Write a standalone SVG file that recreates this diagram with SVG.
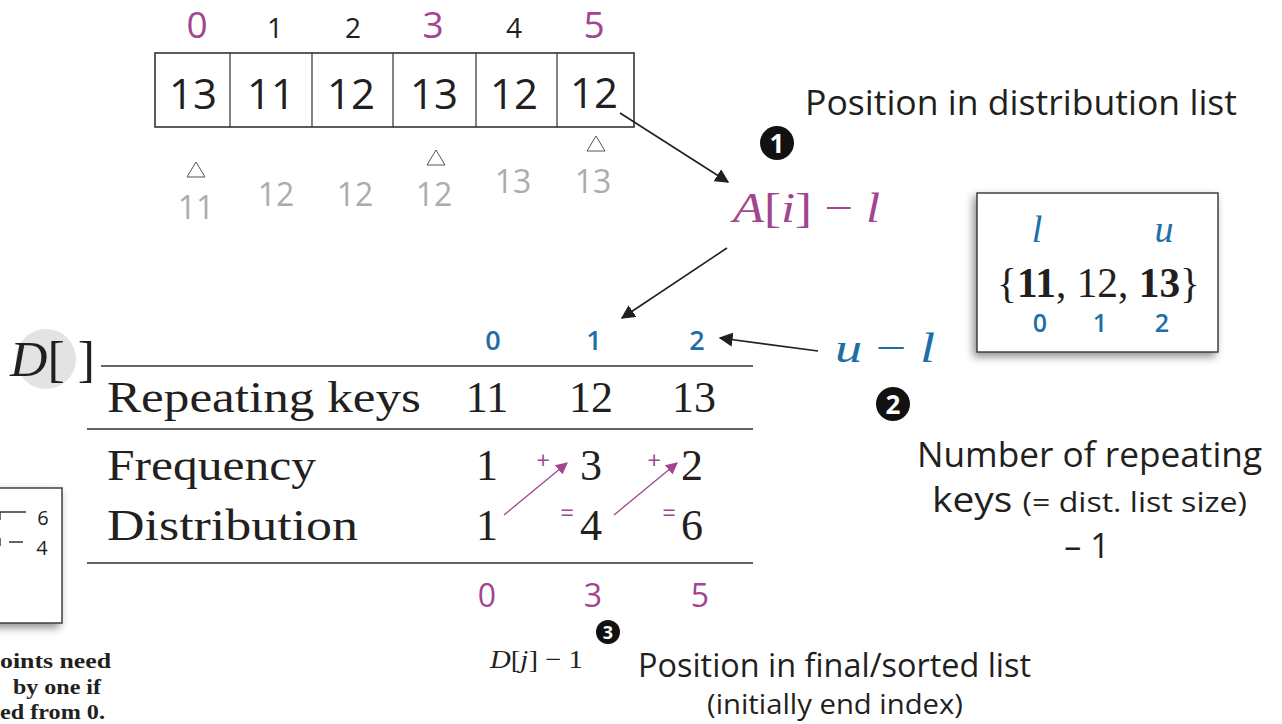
<svg xmlns="http://www.w3.org/2000/svg" width="1282" height="724" viewBox="0 0 1282 724">
<defs>
<marker id="ah" viewBox="0 0 10 10" refX="9" refY="5" markerWidth="14" markerHeight="14" markerUnits="userSpaceOnUse" orient="auto"><path d="M0,0 L10,5 L0,10 z" fill="#231f20"/></marker>
<marker id="ahm" viewBox="0 0 10 10" refX="9" refY="5" markerWidth="12" markerHeight="12" markerUnits="userSpaceOnUse" orient="auto"><path d="M0,0 L10,5 L0,10 z" fill="#a3458f"/></marker>
<filter id="sh" x="-20%" y="-20%" width="140%" height="140%"><feDropShadow dx="-3" dy="4" stdDeviation="4" flood-color="#000" flood-opacity="0.45"/></filter>
</defs>
<style>
.sans{font-family:"Open Sans","Noto Sans",sans-serif;fill:#231f20}
.ser{font-family:"Liberation Serif","DejaVu Serif",serif;fill:#231f20}
.mag{fill:#a3458f}
.blu{fill:#1d6fa5}
.gry{fill:#acacaf}
.cell{font-size:42px;text-anchor:middle}
.idx{font-size:28px;text-anchor:middle}
.gnum{font-size:32px;text-anchor:middle}
.tri{fill:none;stroke:#555;stroke-width:1}
.rule{stroke:#333;stroke-width:1.6}
.conn{stroke:#231f20;stroke-width:1.6;fill:none}
.mconn{stroke:#a3458f;stroke-width:1.3;fill:none}
.tv{font-size:44px;text-anchor:middle}
.bullet{fill:#111}
.bnum{font-family:"Open Sans","Noto Sans",sans-serif;font-weight:bold;fill:#fff;text-anchor:middle}
</style>
<rect width="1282" height="724" fill="#fff"/>

<g id="array">
<rect x="155" y="53" width="479" height="74" fill="none" stroke="#333" stroke-width="1.6"/>
<path d="M230,53V127M312,53V127M393,53V127M476,53V127M557,53V127" stroke="#333" stroke-width="1.2"/>
<text class="sans cell" x="193" y="109">13</text>
<text class="sans cell" x="271" y="109">11</text>
<text class="sans cell" x="351" y="109">12</text>
<text class="sans cell" x="434" y="109">13</text>
<text class="sans cell" x="514" y="109">12</text>
<text class="sans cell" x="594" y="108">12</text>
<text class="sans mag" x="197" y="38" font-size="37" text-anchor="middle">0</text>
<text class="sans idx" x="275" y="38">1</text>
<text class="sans idx" x="353" y="38">2</text>
<text class="sans mag" x="433" y="38" font-size="37" text-anchor="middle">3</text>
<text class="sans idx" x="514" y="38">4</text>
<text class="sans mag" x="594" y="38" font-size="37" text-anchor="middle">5</text>
</g>

<g id="sorted-hints">
<path class="tri" d="M187,177 L205,177 L196,162 Z"/>
<path class="tri" d="M427,165 L445,165 L436,150 Z"/>
<path class="tri" d="M587,151 L605,151 L596,136 Z"/>
<text class="sans gry gnum" x="196" y="219">11</text>
<text class="sans gry gnum" x="276" y="206">12</text>
<text class="sans gry gnum" x="355" y="206">12</text>
<text class="sans gry gnum" x="434" y="206">12</text>
<text class="sans gry gnum" x="513" y="193">13</text>
<text class="sans gry gnum" x="593" y="193">13</text>
</g>

<g id="pos-dist">
<text class="sans" x="805" y="115" font-size="35" textLength="432" lengthAdjust="spacingAndGlyphs">Position in distribution list</text>
<circle class="bullet" cx="777" cy="143" r="17"/>
<text class="bnum" x="777" y="153" font-size="26">1</text>
<text class="ser mag" x="733" y="222" font-size="42" font-style="italic" textLength="147" lengthAdjust="spacingAndGlyphs">A<tspan font-style="normal">[</tspan>i<tspan font-style="normal">] − </tspan>l</text>
</g>

<g id="lu-box">
<rect x="977" y="193" width="241" height="159" fill="#fff" stroke="#333" stroke-width="1.4" filter="url(#sh)"/>
<text class="ser blu" x="1037" y="242" font-size="38" font-style="italic" text-anchor="middle">l</text>
<text class="ser blu" x="1164" y="242" font-size="38" font-style="italic" text-anchor="middle">u</text>
<text class="ser" x="997" y="297" font-size="42" textLength="203" lengthAdjust="spacingAndGlyphs">{<tspan font-weight="bold">11</tspan>, 12, <tspan font-weight="bold">13</tspan>}</text>
<text class="sans blu" x="1040" y="332" font-size="25" font-weight="600" text-anchor="middle">0</text>
<text class="sans blu" x="1100" y="332" font-size="25" font-weight="600" text-anchor="middle">1</text>
<text class="sans blu" x="1162" y="332" font-size="25" font-weight="600" text-anchor="middle">2</text>
</g>

<g id="u-minus-l">
<text class="ser blu" x="835" y="362" font-size="42" font-style="italic" textLength="100" lengthAdjust="spacingAndGlyphs">u<tspan font-style="normal"> − </tspan>l</text>
<circle class="bullet" cx="893" cy="404" r="17"/>
<text class="bnum" x="893" y="414" font-size="26">2</text>
<text class="sans" x="917" y="467" font-size="34" textLength="345" lengthAdjust="spacingAndGlyphs">Number of repeating</text>
<text class="sans" x="932" y="512" textLength="315" lengthAdjust="spacingAndGlyphs"><tspan font-size="34">keys </tspan><tspan font-size="28">(= dist. list size)</tspan></text>
<text class="sans" x="1087" y="558" font-size="34" text-anchor="middle">– 1</text>
</g>

<g id="table">
<circle cx="46" cy="359" r="30" fill="#e3e3e3"/>
<text class="ser" x="10" y="376" font-size="50" textLength="85" lengthAdjust="spacingAndGlyphs"><tspan font-style="italic">D</tspan>[ ]</text>
<line class="rule" x1="101" y1="366" x2="753" y2="366"/>
<line class="rule" x1="87" y1="429" x2="753" y2="429"/>
<line class="rule" x1="87" y1="563" x2="753" y2="563"/>
<text class="sans blu" x="493" y="350" font-size="27" font-weight="600" text-anchor="middle">0</text>
<text class="sans blu" x="594" y="350" font-size="27" font-weight="600" text-anchor="middle">1</text>
<text class="sans blu" x="697" y="350" font-size="27" font-weight="600" text-anchor="middle">2</text>
<text class="ser" x="107" y="412" font-size="44" textLength="314" lengthAdjust="spacingAndGlyphs">Repeating keys</text>
<text class="ser" x="107" y="480" font-size="44" textLength="209" lengthAdjust="spacingAndGlyphs">Frequency</text>
<text class="ser" x="107" y="540" font-size="44" textLength="251" lengthAdjust="spacingAndGlyphs">Distribution</text>
<text class="ser tv" x="487" y="412">11</text>
<text class="ser tv" x="591" y="412">12</text>
<text class="ser tv" x="694" y="412">13</text>
<text class="ser tv" x="487" y="480">1</text>
<text class="ser tv" x="591" y="480">3</text>
<text class="ser tv" x="692" y="480">2</text>
<text class="ser tv" x="487" y="540">1</text>
<text class="ser tv" x="591" y="540">4</text>
<text class="ser tv" x="692" y="540">6</text>
<text class="sans mag" x="543" y="469" font-size="24" text-anchor="middle">+</text>
<text class="sans mag" x="654" y="469" font-size="24" text-anchor="middle">+</text>
<text class="sans mag" x="567" y="521" font-size="24" text-anchor="middle">=</text>
<text class="sans mag" x="669" y="521" font-size="24" text-anchor="middle">=</text>
<text class="sans mag" x="487" y="607" font-size="32" text-anchor="middle">0</text>
<text class="sans mag" x="593" y="607" font-size="32" text-anchor="middle">3</text>
<text class="sans mag" x="700" y="607" font-size="32" text-anchor="middle">5</text>
</g>

<g id="pos-final">
<circle class="bullet" cx="608" cy="632" r="12"/>
<text class="bnum" x="608" y="639" font-size="18">3</text>
<text class="ser" x="490" y="668" font-size="26" textLength="93" lengthAdjust="spacingAndGlyphs"><tspan font-style="italic">D</tspan>[<tspan font-style="italic">j</tspan>] − 1</text>
<text class="sans" x="638" y="677" font-size="32" textLength="393" lengthAdjust="spacingAndGlyphs">Position in final/sorted list</text>
<text class="sans" x="707" y="714" font-size="28" textLength="256" lengthAdjust="spacingAndGlyphs">(initially end index)</text>
</g>

<g id="left-box">
<rect x="-30" y="488" width="92" height="135" fill="#fff" stroke="#333" stroke-width="1.4" filter="url(#sh)"/>
<path d="M0,512 H26 M0,512 V520 M9,542 H23 M0,538 V546" stroke="#333" stroke-width="1.4" fill="none"/>
<text class="sans" x="43" y="525" font-size="20" text-anchor="middle">6</text>
<text class="sans" x="42" y="555" font-size="20" text-anchor="middle">4</text>
</g>

<g id="note">
<text class="ser" x="0" y="668" font-size="22" font-weight="bold" textLength="111" lengthAdjust="spacingAndGlyphs">oints need</text>
<text class="ser" x="13" y="694" font-size="22" font-weight="bold" textLength="88" lengthAdjust="spacingAndGlyphs">by one if</text>
<text class="ser" x="0" y="719" font-size="22" font-weight="bold" textLength="105" lengthAdjust="spacingAndGlyphs">ed from 0.</text>
</g>

<g id="connectors">
<line class="conn" x1="620" y1="113" x2="728" y2="182" marker-end="url(#ah)"/>
<line class="conn" x1="727" y1="248" x2="622" y2="318" marker-end="url(#ah)"/>
<line class="conn" x1="818" y1="351" x2="720" y2="338" marker-end="url(#ah)"/>
<line class="mconn" x1="504" y1="515" x2="567" y2="463" marker-end="url(#ahm)"/>
<line class="mconn" x1="614" y1="515" x2="677" y2="463" marker-end="url(#ahm)"/>
</g>
</svg>
